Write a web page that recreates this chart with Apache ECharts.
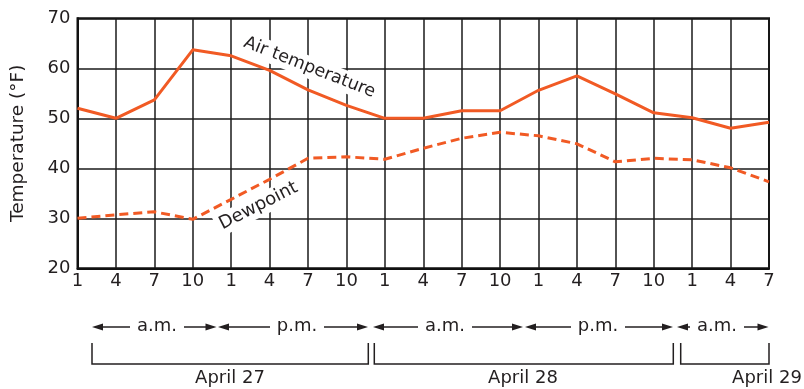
<!DOCTYPE html>
<html>
<head>
<meta charset="utf-8">
<script src="https://cdn.jsdelivr.net/npm/echarts@6/dist/echarts.min.js"></script>
<style>html,body{margin:0;padding:0;background:#fff}#c{width:804px;height:389px}</style>
</head>
<body>
<div id="c"></div>
<script>
// Data
var hours = ['1','4','7','10','1','4','7','10','1','4','7','10','1','4','7','10','1','4','7'];
var airTemp = [52.0, 50.0, 53.7, 63.7, 62.5, 59.6, 55.7, 52.6, 50.0, 50.0, 51.5, 51.5, 55.6, 58.5, 54.9, 51.1, 50.1, 48.0, 49.2];
var dewpoint = [30.0, 30.7, 31.3, 29.8, 33.8, 37.8, 42.0, 42.3, 41.8, 44.0, 46.0, 47.2, 46.5, 44.9, 41.3, 42.0, 41.7, 40.1, 37.3];
var yTicks = [20, 30, 40, 50, 60, 70];
var periodLabels = ['a.m.', 'p.m.', 'a.m.', 'p.m.', 'a.m.'];
var dayLabels = ['April 27', 'April 28', 'April 29'];

var FONT = '"DejaVu Sans", sans-serif';
var TXT = '#231f20';
var ORANGE = '#f15a24';

var chart = echarts.init(document.getElementById('c'), null, {renderer: 'canvas'});

// annotation layout (pixels)
var periodSpans = [[92, 216.5], [218, 368], [373, 523], [525, 673], [677, 768.5]];
var periodCenters = [157, 297, 445, 598, 717];
var bracketSpans = [[92, 368.3], [374.3, 673.3], [680.7, 769]];
var dayCenters = [230, 523, 767];
var arrowY = 327;

var g = [];
var halfText = 21;
periodSpans.forEach(function (s, i) {
  var c = periodCenters[i];
  g.push({type: 'line', shape: {x1: s[0] + 8, y1: arrowY, x2: c - halfText - 6, y2: arrowY}, style: {stroke: TXT, lineWidth: 1.5}});
  g.push({type: 'line', shape: {x1: c + halfText + 6, y1: arrowY, x2: s[1] - 8, y2: arrowY}, style: {stroke: TXT, lineWidth: 1.5}});
  g.push({type: 'polygon', shape: {points: [[s[0], arrowY], [s[0] + 11, arrowY - 3.5], [s[0] + 11, arrowY + 3.5]]}, style: {fill: TXT}});
  g.push({type: 'polygon', shape: {points: [[s[1], arrowY], [s[1] - 11, arrowY - 3.5], [s[1] - 11, arrowY + 3.5]]}, style: {fill: TXT}});
  g.push({type: 'text', x: c, y: arrowY - 1, style: {text: periodLabels[i], font: '18px ' + FONT, fill: TXT, align: 'center', verticalAlign: 'middle'}});
});
bracketSpans.forEach(function (s, i) {
  g.push({type: 'polyline', shape: {points: [[s[0], 343], [s[0], 364], [s[1], 364], [s[1], 343]]}, style: {stroke: TXT, lineWidth: 1.5, fill: null}});
  g.push({type: 'text', x: dayCenters[i], y: 369, style: {text: dayLabels[i], font: '18px ' + FONT, fill: TXT, align: 'center', verticalAlign: 'top'}});
});
// series labels
g.push({type: 'text', x: 309.5, y: 67.5, rotation: -21.4 * Math.PI / 180, z: 100,
  style: {text: 'Air temperature', font: '17.5px ' + FONT, fill: TXT, align: 'center', verticalAlign: 'middle', backgroundColor: '#fff', padding: [2, 4]}});
g.push({type: 'text', x: 258.5, y: 206, rotation: 27 * Math.PI / 180, z: 100,
  style: {text: 'Dewpoint', font: '18px ' + FONT, fill: TXT, align: 'center', verticalAlign: 'middle', backgroundColor: '#fff', padding: [2, 4]}});

var option = {
  animation: false,
  backgroundColor: '#fff',
  grid: {left: 77.5, right: 35, top: 18.3, bottom: 120.7, show: true, borderColor: '#111', borderWidth: 2, backgroundColor: 'transparent'},
  xAxis: {
    type: 'category', data: hours, boundaryGap: false,
    axisLine: {show: true, lineStyle: {color: '#111', width: 2}},
    axisTick: {show: false},
    axisLabel: {color: TXT, fontFamily: FONT, fontSize: 18, margin: 4, interval: 0},
    splitLine: {show: true, interval: 0, lineStyle: {color: '#1a1a1a', width: 1.5}}
  },
  yAxis: {
    type: 'value', min: yTicks[0], max: yTicks[yTicks.length - 1], interval: 10,
    name: 'Temperature (°F)', nameLocation: 'middle', nameGap: 50,
    nameTextStyle: {color: TXT, fontFamily: FONT, fontSize: 18.5},
    axisLine: {show: true, lineStyle: {color: '#111', width: 2}},
    axisTick: {show: false},
    axisLabel: {color: TXT, fontFamily: FONT, fontSize: 18, margin: 7},
    splitLine: {show: true, lineStyle: {color: '#1a1a1a', width: 1.5}}
  },
  series: [
    {type: 'line', name: 'Air temperature', data: airTemp, symbol: 'none', z: 3,
      lineStyle: {color: ORANGE, width: 3}},
    {type: 'line', name: 'Dewpoint', data: dewpoint, symbol: 'none', z: 3,
      lineStyle: {color: ORANGE, width: 3, type: [9, 5]}}
  ],
  graphic: g
};
chart.setOption(option);
</script>
</body>
</html>
